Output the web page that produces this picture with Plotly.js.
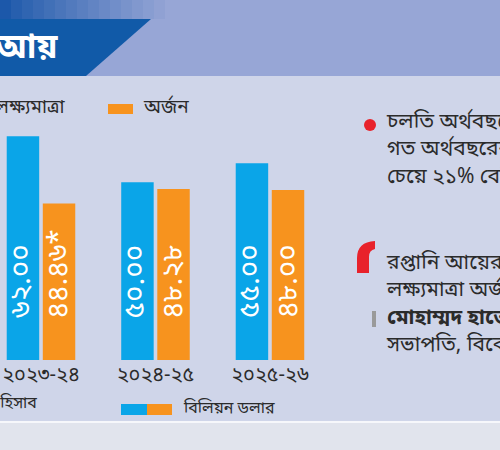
<!DOCTYPE html>
<html>
<head>
<meta charset="utf-8">
<script src="https://cdn.plot.ly/plotly-3.0.1.min.js"></script>
<style>html,body{margin:0;padding:0;background:#cfd5e9;}#chart{width:500px;height:450px;}</style>
</head>
<body>
<div id="chart"></div>
<script>
// ---- data ----
const categories = ["২০২৩-২৪", "২০২৪-২৫", "২০২৫-২৬"];
const targetName = "লক্ষ্যমাত্রা";
const achievedName = "অর্জন";
const targetValues = [62.00, 50.00, 55.00];
const achievedValues = [44.46, 48.28, 48.00];
const targetLabels = ["৬২.০০", "৫০.০০", "৫৫.০০"];
const achievedLabels = ["৪৪.৪৬*", "৪৮.২৮", "৪৮.০০"];
const titleText = "রপ্তানি আয়";
const unitText = "বিলিয়ন ডলার";
const noteText = "*সংশোধিত হিসাব";
const bulletLines = ["চলতি অর্থবছরে রপ্তানি আয়", "গত অর্থবছরের তুলনায়", "চেয়ে ২১% বেশি ধরা হয়েছে"];
const quoteLines = ["রপ্তানি আয়ের এই", "লক্ষ্যমাত্রা অর্জন কঠিন হবে"];
const quoteName = "মোহাম্মদ হাতেম";
const quoteRole = "সভাপতি, বিকেএমইএ";

// ---- layout helpers ----
const W = 500, H = 450, MB = 90;
const PH = H - MB;
const Y_MIN = 3.6, Y_MAX = 97.6;
const px = x => x / W;
const py = y => (PH - y) / PH;
const BN = "'Noto Sans Bengali','Noto Serif Bengali','Lohit Bengali','Mukti','FreeSans','Noto Sans',sans-serif";
const blue = "#0aa5e8", orange = "#f7931e", txt = "#2b2b2b";

const traces = [
  {type: "bar", name: targetName, x: categories, y: targetValues,
   marker: {color: blue}, hoverinfo: "none"},
  {type: "bar", name: achievedName, x: categories, y: achievedValues,
   marker: {color: orange}, hoverinfo: "none"}
];

function rect(x0, y0, x1, y1, color, layer) {
  return {type: "rect", xref: "paper", yref: "paper", x0: px(x0), x1: px(x1), y0: py(y0), y1: py(y1),
          fillcolor: color, line: {width: 0}, layer: layer || "below"};
}
function note(text, x, y, size, opts) {
  return Object.assign({xref: "paper", yref: "paper", x: px(x), y: py(y), text: text, showarrow: false,
          xanchor: "left", yanchor: "middle", align: "left", borderpad: 0,
          font: {family: BN, size: size, color: txt}}, opts || {});
}

// top gradient strip
const shapes = [rect(0, 0, 500, 76, "#97a6d6")];
const g0 = [28, 88, 170], g1 = [151, 166, 214], steps = 16;
for (let i = 0; i < steps; i++) {
  const t = Math.pow(i / (steps - 1), 0.9);
  const c = g0.map((v, k) => Math.round(v + (g1[k] - v) * t));
  shapes.push(rect(i * 11, 0, i * 11 + 12, 19, `rgb(${c.join(",")})`));
}
shapes.push(
  {type: "path", xref: "paper", yref: "paper", layer: "below", fillcolor: "#115aa8", line: {width: 0},
   path: `M ${px(0)},${py(19)} L ${px(151)},${py(19)} L ${px(86)},${py(76)} L ${px(0)},${py(76)} Z`},
  rect(0, 76, 500, 421, "#cfd5e9"),
  rect(0, 421, 500, 423, "#f6f7fb"),
  rect(0, 423, 500, 450, "#e1e4ed"),
  rect(108, 104, 133, 114, orange, "above"),
  rect(121, 404, 147, 415, blue, "above"),
  rect(147, 404, 172, 415, orange, "above"),
  {type: "circle", xref: "paper", yref: "paper", x0: px(364), x1: px(376), y0: py(119), y1: py(131),
   fillcolor: "#e8222b", line: {width: 0}},
  {type: "path", xref: "paper", yref: "paper", fillcolor: "#e8222b", line: {width: 0},
   path: `M ${px(357)},${py(273)} L ${px(369)},${py(273)} L ${px(369)},${py(257)} Q ${px(369)},${py(250)} ${px(375)},${py(249)} L ${px(375)},${py(241)} Q ${px(357)},${py(242)} ${px(357)},${py(258)} Z`},
  rect(372, 311, 376, 327, "#9a9a9a", "above")
);

const annotations = [
  note(titleText, 59, 49, 34, {xanchor: "right", font: {family: BN, size: 34, color: "#ffffff", weight: 700}}),
  note(targetName, 67, 108, 19, {xanchor: "right"}),
  note(achievedName, 142, 108, 19),
  note(noteText, 38, 404, 16, {xanchor: "right"}),
  note(unitText, 182, 409, 16),
  note(bulletLines.join("<br>"), 385, 150, 21),
  note([quoteLines[0], quoteLines[1], "<b>" + quoteName + "</b>", quoteRole].join("<br>"), 385, 305, 21)
];

// value labels, rotated, anchored to the bottom of the axis
const labelSets = [[targetLabels, -19], [achievedLabels, 19]];
labelSets.forEach(([labels, dx]) => {
  categories.forEach((c, i) => {
    annotations.push({xref: "x", yref: "y", x: c, y: Y_MIN, text: labels[i], showarrow: false,
      textangle: -90, xanchor: "center", yanchor: "bottom", xshift: dx, yshift: 40,
      font: {family: BN, size: 28, color: "#ffffff"}});
  });
});

const layout = {
  width: W, height: H,
  margin: {l: 0, r: 0, t: 0, b: MB, pad: 0},
  paper_bgcolor: "#cfd5e9", plot_bgcolor: "rgba(0,0,0,0)",
  showlegend: false,
  barmode: "group", bargap: 0.37, bargroupgap: 0.1,
  xaxis: {type: "category", range: [-0.358, 4.009], showgrid: false, zeroline: false, showline: false,
          ticks: "", tickfont: {family: BN, size: 20, color: txt}, fixedrange: true},
  yaxis: {range: [Y_MIN, Y_MAX], visible: false, fixedrange: true},
  shapes: shapes,
  annotations: annotations
};

Plotly.newPlot("chart", traces, layout, {displayModeBar: false, staticPlot: true});
</script>
</body>
</html>
